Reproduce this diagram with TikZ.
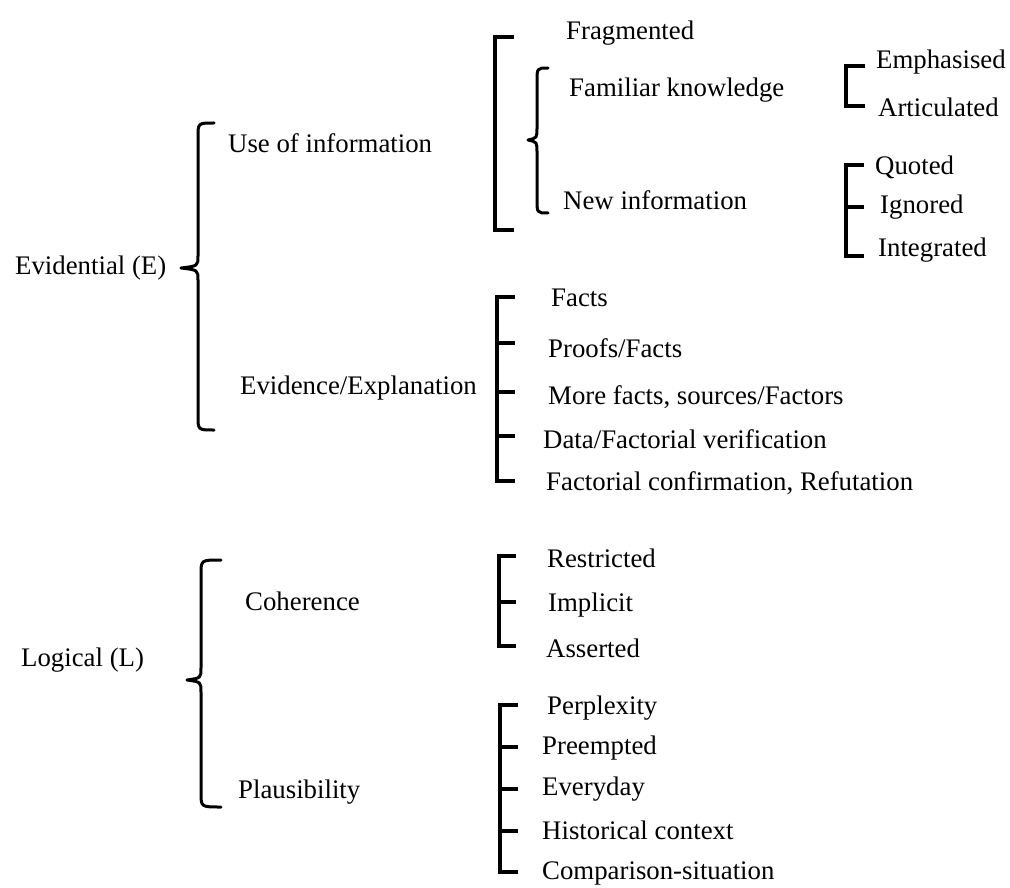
\documentclass[tikz,border=0pt]{standalone}
\usepackage{fontspec}
\setmainfont{Liberation Serif}
\begin{document}
\begin{tikzpicture}[x=1pt,y=-1pt,
  lbl/.style={anchor=west,inner sep=0pt,font=\fontsize{26.8}{30}\selectfont},
  bracketline/.style={line width=3.6pt,line cap=butt,line join=miter},
  braceline/.style={line width=3pt,line cap=round,line join=round}]
\useasboundingbox (0,0) rectangle (1010,888);

% curly brace: top end x, vertical x, tip x, top y, tip y, bottom y
\newcommand{\curlybrace}[6]{%
  \draw[braceline] (#1,#4) .. controls (#2,#4) .. (#2,#4+14)
    -- (#2,#5-12) .. controls (#2,#5-2) .. (#3,#5)
    .. controls (#2,#5+2) .. (#2,#5+12)
    -- (#2,#6-14) .. controls (#2,#6) .. (#1,#6);}

% ---- Evidential ----
\node[lbl] (ev) at (15,268) {Evidential (E)};
\curlybrace{214}{198}{181}{123}{268}{430}
\node[lbl] (use) at (228,143) {Use of information};
\node[lbl] (evx) at (240,388) {Evidence/Explanation};

% use of information
\draw[bracketline] (514,37) -| (495,230) -- (514,230);
\node[lbl] (frag) at (566,33) {Fragmented};
\curlybrace{548}{537}{528}{68}{140}{213}
\node[lbl] (fam) at (569,90) {Familiar knowledge};
\node[lbl] (new) at (563,200) {New information};

\draw[bracketline] (865,66) -| (846,106) -- (865,106);
\node[lbl] (emph) at (876,62) {Emphasised};
\node[lbl] (art) at (878,107) {Articulated};

\draw[bracketline] (864,165) -| (846,256) -- (864,256);
\draw[bracketline] (846,207) -- (864,207);
\node[lbl] (quo) at (875,167) {Quoted};
\node[lbl] (ign) at (880,207) {Ignored};
\node[lbl] (int) at (878,250) {Integrated};

% evidence/explanation
\draw[bracketline] (515,297) -| (497,481) -- (515,481);
\foreach \yy in {343,392,436} \draw[bracketline] (497,\yy) -- (515,\yy);
\node[lbl] (facts) at (551,298) {Facts};
\node[lbl] (proofs) at (548,348) {Proofs/Facts};
\node[lbl] (more) at (548,397) {More facts, sources/Factors};
\node[lbl] (data) at (543,439) {Data/Factorial verification};
\node[lbl] (conf) at (546,483) {Factorial confirmation, Refutation};

% ---- Logical ----
\node[lbl] (log) at (21,660) {Logical (L)};
\curlybrace{221}{201}{187}{560}{680}{807}
\node[lbl] (coh) at (245,601) {Coherence};
\node[lbl] (pla) at (238,792) {Plausibility};

\draw[bracketline] (516,556) -| (499,646) -- (516,646);
\draw[bracketline] (499,602) -- (516,602);
\node[lbl] (res) at (547,558) {Restricted};
\node[lbl] (imp) at (548,605) {Implicit};
\node[lbl] (ass) at (546,648) {Asserted};

\draw[bracketline] (518,705) -| (500,872) -- (518,872);
\foreach \yy in {747,789,831} \draw[bracketline] (500,\yy) -- (518,\yy);
\node[lbl] (per) at (547,708) {Perplexity};
\node[lbl] (pre) at (542,748) {Preempted};
\node[lbl] (eve) at (542,789) {Everyday};
\node[lbl] (his) at (542,830) {Historical context};
\node[lbl] (com) at (542,873) {Comparison-situation};
\end{tikzpicture}
\end{document}
